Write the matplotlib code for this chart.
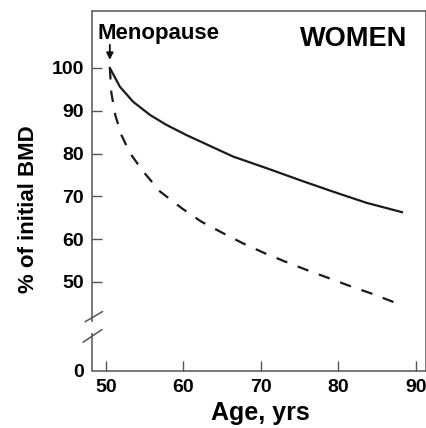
import numpy as np
import matplotlib
matplotlib.use("Agg")
import matplotlib.pyplot as plt

# Bone mineral density after menopause, % of initial value
age_solid = [50.5, 51.8, 53.5, 55.7, 57.8, 60.4, 63.4, 66.4, 70.7, 75.0,
             79.3, 83.6, 88.2]
bmd_solid = [100, 95.6, 92.1, 89.0, 86.7, 84.3, 81.8, 79.3, 76.6, 73.8,
             71.1, 68.5, 66.3]

age_dashed = [50.5, 50.7, 51.2, 52.0, 53.1, 54.8, 57.0, 59.8, 62.3, 65.1,
              67.7, 70.5, 73.2, 75.9, 78.6, 81.4, 84.1, 86.7, 87.5]
bmd_dashed = [100, 94.1, 89.0, 84.3, 80.1, 75.8, 71.1, 67.2, 64.1, 61.4,
              59.0, 56.7, 54.7, 52.8, 51.0, 49.1, 47.4, 45.6, 45.0]

x_ticks = [50, 60, 70, 80, 90]
y_ticks = [50, 60, 70, 80, 90, 100]
menopause_age = 50.5

# the axis is broken below 50; the bottom edge stands for 0
y_zero_pos = 29.2

plt.rcParams['font.family'] = ['Liberation Sans', 'DejaVu Sans']
plt.rcParams['font.weight'] = 'bold'

fig = plt.figure(figsize=(4.27, 4.28), dpi=100)
ax = fig.add_axes([0.2155, 0.1332, 0.7822, 0.8411])

ax.plot(age_solid, bmd_solid, color='#1a1a1a', lw=1.6,
        solid_joinstyle='round')
ax.plot(age_dashed, bmd_dashed, color='#1a1a1a', lw=1.6, dashes=(5.2, 5.0))

ax.set_xlim(48.2, 91.3)
ax.set_ylim(y_zero_pos, 113.3)

ax.set_xticks(x_ticks)
ax.set_yticks([y_zero_pos] + y_ticks)
ax.set_yticklabels(['0'] + [str(v) for v in y_ticks])
ax.tick_params(direction='in', length=7, width=1, color='#555555',
               labelsize=14, pad=6)
# no tick mark at the zero corner
ax.yaxis.get_major_ticks()[0].tick1line.set_visible(False)

for side in ['top', 'right', 'bottom']:
    ax.spines[side].set_color('#555555')
    ax.spines[side].set_linewidth(1.1)
ax.spines['left'].set_visible(False)

# left spine drawn in two pieces with a break
spine_kw = dict(transform=ax.transAxes, color='#555555', lw=1.1,
                clip_on=False, solid_capstyle='butt')
ax.plot([0, 0], [0.136, 1.0], **spine_kw)
ax.plot([0, 0], [0.0, 0.106], **spine_kw)
ax.plot([-0.022, 0.033], [0.136, 0.166], **spine_kw)
ax.plot([-0.028, 0.031], [0.079, 0.116], **spine_kw)

ax.set_xlabel('Age, yrs', fontsize=18, fontweight='bold')
ax.xaxis.label.set_verticalalignment('baseline')
ax.xaxis.set_label_coords(0.503, -0.136)
ax.set_ylabel('% of initial BMD', fontsize=16, fontweight='bold',
              va='center')
ax.yaxis.set_label_coords(-0.19, 0.45)

ax.text(0.015, 0.922, 'Menopause', transform=ax.transAxes, fontsize=16,
        fontweight='bold', va='baseline', ha='left')
ax.annotate('', xy=(menopause_age, 101.9), xytext=(menopause_age, 105.4),
            arrowprops=dict(arrowstyle='-|>', mutation_scale=10, lw=1.3,
                            color='#111111', shrinkA=0, shrinkB=0))
ax.text(0.943, 0.903, 'WOMEN', transform=ax.transAxes, fontsize=19.5,
        fontweight='bold', va='baseline', ha='right')

fig.savefig('out.png', dpi=100)
